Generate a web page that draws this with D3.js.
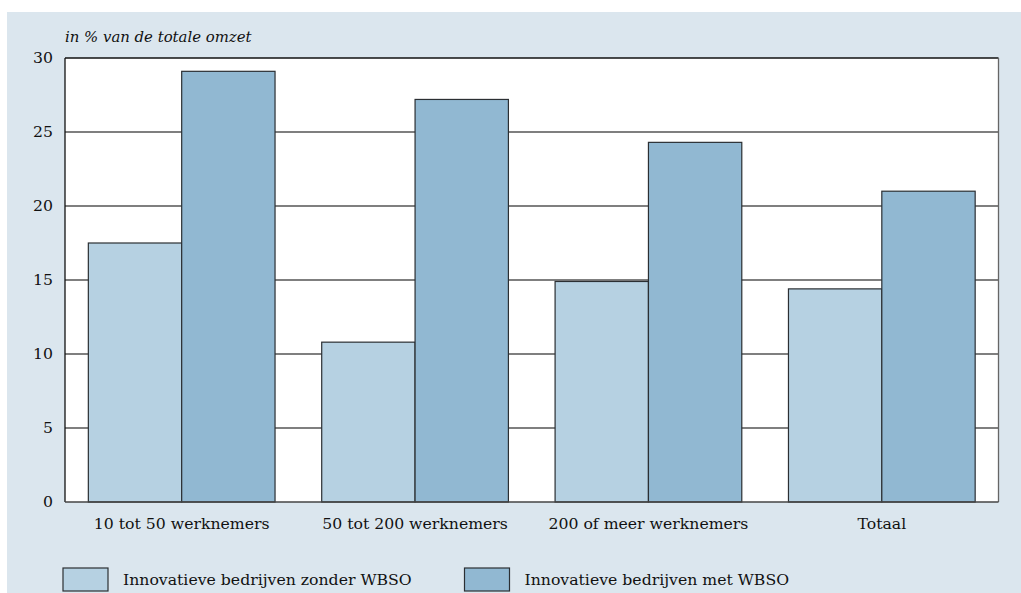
<!DOCTYPE html>
<html><head><meta charset="utf-8">
<script src="https://cdn.jsdelivr.net/npm/d3@7"></script>
<style>body{margin:0;background:#fff}svg{display:block}
svg text{font-family:"DejaVu Serif";}
</style>
</head><body>
<svg id="c" width="1021" height="593"></svg>
<script>
const categories = ["10 tot 50 werknemers", "50 tot 200 werknemers", "200 of meer werknemers", "Totaal"];
const seriesNames = ["Innovatieve bedrijven zonder WBSO", "Innovatieve bedrijven met WBSO"];
const zonder = [17.5, 10.8, 14.9, 14.4];
const met = [29.1, 27.2, 24.3, 21.0];
const yTicks = [0, 5, 10, 15, 20, 25, 30];
const yTitle = "in % van de totale omzet";
const colors = ["#b6d1e2", "#91b8d2"];

const svg = d3.select("#c");
const fs = 15.7;
svg.append("rect").attr("x", 7).attr("y", 12).attr("width", 1014).attr("height", 581).attr("fill", "#dbe6ee");

const L = 65, R = 998.5, T = 58, B = 502;
const x = d3.scaleBand().domain(categories).range([L, R]).paddingInner(0.2).paddingOuter(0.1);
const xs = d3.scaleBand().domain([0, 1]).range([0, x.bandwidth()]);
const y = d3.scaleLinear().domain([0, 30]).range([B, T]);

svg.append("rect").attr("x", L).attr("y", T).attr("width", R - L).attr("height", B - T).attr("fill", "#fff");

svg.append("g").selectAll("line").data(yTicks.filter(d => d > 0 && d < 30)).join("line")
  .attr("x1", L).attr("x2", R).attr("y1", d => y(d)).attr("y2", d => y(d))
  .attr("stroke", "#000").attr("stroke-width", 1.2);

const data = categories.map((c, i) => ({c, vals: [zonder[i], met[i]]}));
const g = svg.append("g").selectAll("g").data(data).join("g")
  .attr("transform", d => `translate(${x(d.c)},0)`);
g.selectAll("rect").data(d => d.vals.map((v, k) => ({v, k}))).join("rect")
  .attr("x", d => xs(d.k)).attr("width", xs.bandwidth())
  .attr("y", d => y(d.v)).attr("height", d => y(0) - y(d.v))
  .attr("fill", d => colors[d.k]).attr("stroke", "#2b2f33").attr("stroke-width", 1.2);

svg.append("line").attr("x1", L).attr("x2", R).attr("y1", T).attr("y2", T).attr("stroke", "#111").attr("stroke-width", 1.3);
svg.append("line").attr("x1", L).attr("x2", L).attr("y1", T).attr("y2", B).attr("stroke", "#111").attr("stroke-width", 1.3);
svg.append("line").attr("x1", R).attr("x2", R).attr("y1", T).attr("y2", B).attr("stroke", "#666").attr("stroke-width", 1.3);
svg.append("line").attr("x1", L).attr("x2", R).attr("y1", B).attr("y2", B).attr("stroke", "#444").attr("stroke-width", 1.3);

svg.append("g").selectAll("text").data(yTicks).join("text")
  .attr("x", 53).attr("y", d => y(d)).attr("dy", "0.35em").attr("text-anchor", "end")
  .attr("font-size", fs).attr("fill", "#111").text(d => d);

svg.append("g").selectAll("text").data(categories).join("text")
  .attr("x", d => x(d) + x.bandwidth() / 2).attr("y", 529).attr("text-anchor", "middle")
  .attr("font-size", fs).attr("fill", "#111").text(d => d);

svg.append("text").attr("x", 65).attr("y", 42).attr("font-style", "italic")
  .attr("font-size", 14.9).attr("fill", "#111").text(yTitle);

const legX = [63, 464.5];
const lg = svg.append("g").selectAll("g").data(seriesNames).join("g")
  .attr("transform", (d, i) => `translate(${legX[i]},568)`);
lg.append("rect").attr("width", 45).attr("height", 23).attr("fill", (d, i) => colors[i])
  .attr("stroke", "#2b2f33").attr("stroke-width", 1.2);
lg.append("text").attr("x", 60).attr("y", 11.5).attr("dy", "0.35em")
  .attr("font-size", fs).attr("fill", "#111").text(d => d);
</script>
</body></html>
